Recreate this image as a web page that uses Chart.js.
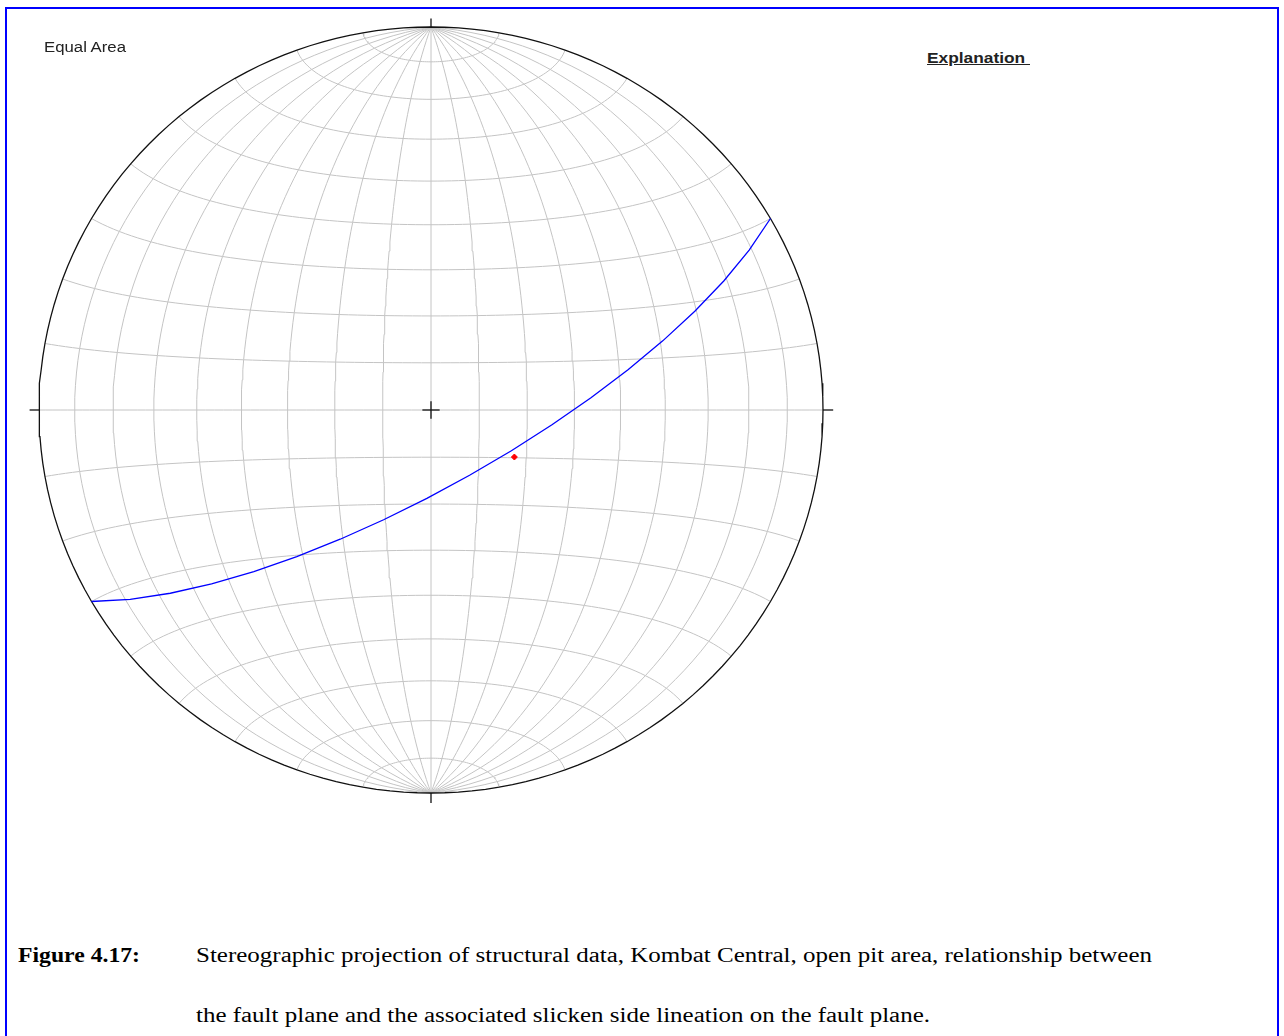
<!DOCTYPE html>
<html>
<head>
<meta charset="utf-8">
<script src="https://cdn.jsdelivr.net/npm/chart.js@4.4.1/dist/chart.umd.min.js"></script>
<style>
  body { margin: 0; background: #fff; width: 1284px; height: 1036px; overflow: hidden; position: relative; }
  #frame { position: absolute; left: 5px; top: 7px; width: 1270px; height: 1100px; border: 2px solid #0000ff; }
  #net { position: absolute; left: 19px; top: 10px; }
  .txt { position: absolute; white-space: pre; transform-origin: left top; }
  .sans { font-family: "Liberation Sans", Arial, sans-serif; font-size: 14px; line-height: 14px; color: #222; }
  .serif { font-family: "Liberation Serif", "Times New Roman", serif; font-size: 20px; line-height: 20px; color: #000; }
</style>
</head>
<body>
<div id="frame"></div>
<canvas id="net" width="824" height="800"></canvas>

<div class="txt sans" id="t-equal" style="left:44px; top:40px;" data-w="82">Equal Area</div>
<div class="txt sans" id="t-expl" style="left:927px; top:51px; font-weight:bold; text-decoration:underline;" data-w="103">Explanation </div>
<div class="txt serif" style="left:18px; top:945px; font-weight:bold;" data-w="122">Figure 4.17:</div>
<div class="txt serif" style="left:196px; top:945px;" data-w="956">Stereographic projection of structural data, Kombat Central, open pit area, relationship between</div>
<div class="txt serif" style="left:196px; top:1005px;" data-w="734">the fault plane and the associated slicken side lineation on the fault plane.</div>

<script>
// fault plane (right-hand rule strike / dip, degrees)
const planeStrikes = [60];
const planeDips = [74];
// slickenside lineation (trend / plunge, degrees)
const lineTrends = [120];
const linePlunges = [70];
// net spacing, degrees
const gridStep = 10;

const rad = Math.PI / 180;

// Schmidt net, unit radius: lat/lon on the equatorial aspect
function netPoint(lat, lon) {
    const c = Math.cos(lat * rad), k = 1 / Math.sqrt(1 + c * Math.cos(lon * rad));
    return { x: c * Math.sin(lon * rad) * k, y: Math.sin(lat * rad) * k };
}

// lower hemisphere line, trend/plunge -> x/y
function linePoint(trend, plunge) {
    const r = Math.SQRT2 * Math.sin((90 - plunge) / 2 * rad);
    return { x: r * Math.sin(trend * rad), y: r * Math.cos(trend * rad) };
}

function greatCircle(strike, dip) {
    const pts = [];
    const dd = strike + 90;
    for (let a = 0; a <= 180; a += 10) {
        const ca = Math.cos(a * rad), sa = Math.sin(a * rad);
        const e = ca * Math.sin(strike * rad) + sa * Math.sin(dd * rad) * Math.cos(dip * rad);
        const n = ca * Math.cos(strike * rad) + sa * Math.cos(dd * rad) * Math.cos(dip * rad);
        const d = sa * Math.sin(dip * rad);
        const trend = Math.atan2(e, n) / rad;
        const plunge = Math.asin(Math.min(1, d)) / rad;
        pts.push(linePoint(trend, plunge));
    }
    return pts;
}

const datasets = [];
const gridStyle = { borderColor: '#c4c4c4', borderWidth: 1, order: 10 };

for (let lon = -90 + gridStep; lon < 90; lon += gridStep) {
    const pts = [];
    for (let lat = -90; lat <= 90; lat += 2) pts.push(netPoint(lat, lon));
    datasets.push({ data: pts, ...gridStyle });
}
for (let lat = -90 + gridStep; lat < 90; lat += gridStep) {
    const pts = [];
    for (let lon = -90; lon <= 90; lon += 2) pts.push(netPoint(lat, lon));
    datasets.push({ data: pts, ...gridStyle });
}

// primitive circle
const prim = [];
for (let a = 0; a <= 360; a += 2) prim.push({ x: Math.sin(a * rad), y: Math.cos(a * rad) });
datasets.push({ data: prim, borderColor: '#111', borderWidth: 1.3, order: 3 });

// N/E/S/W ticks and centre cross
const marks = [
    [{ x: 0, y: 1 }, { x: 0, y: 1.022 }],
    [{ x: 1, y: 0 }, { x: 1.026, y: 0 }],
    [{ x: 0, y: -1 }, { x: 0, y: -1.026 }],
    [{ x: -1, y: 0 }, { x: -1.024, y: 0 }],
    [{ x: -0.022, y: 0 }, { x: 0.022, y: 0 }],
    [{ x: 0, y: -0.023 }, { x: 0, y: 0.023 }]
];
marks.forEach(m => datasets.push({ data: m, borderColor: '#111', borderWidth: 1.3, order: 2 }));

planeStrikes.forEach((s, i) => {
    datasets.push({ data: greatCircle(s, planeDips[i]), borderColor: '#0000ff', borderWidth: 1.3, order: 1 });
});

datasets.push({
    data: lineTrends.map((t, i) => linePoint(t, linePlunges[i])),
    showLine: false,
    pointStyle: 'rectRot',
    pointRadius: 3,
    pointBackgroundColor: '#ff0000',
    pointBorderColor: '#ff0000',
    order: 0
});

datasets.forEach(d => {
    if (d.showLine === undefined) d.showLine = true;
    if (d.pointRadius === undefined) d.pointRadius = 0;
    d.clip = false;
    d.tension = 0;
});

new Chart(document.getElementById('net'), {
    type: 'scatter',
    data: { datasets: datasets },
    options: {
        responsive: false,
        animation: false,
        events: [],
        devicePixelRatio: 1,
        layout: { padding: { left: 20, right: 20, top: 17, bottom: 17 } },
        scales: {
            x: { display: false, min: -1, max: 1 },
            y: { display: false, min: -1, max: 1 }
        },
        plugins: { legend: { display: false }, tooltip: { enabled: false } }
    }
});

// stretch the text boxes to the widths they have in the figure
document.querySelectorAll('.txt').forEach(el => {
    const w = el.getBoundingClientRect().width;
    el.style.transform = 'scaleX(' + (el.dataset.w / w) + ')';
});
</script>
</body>
</html>
